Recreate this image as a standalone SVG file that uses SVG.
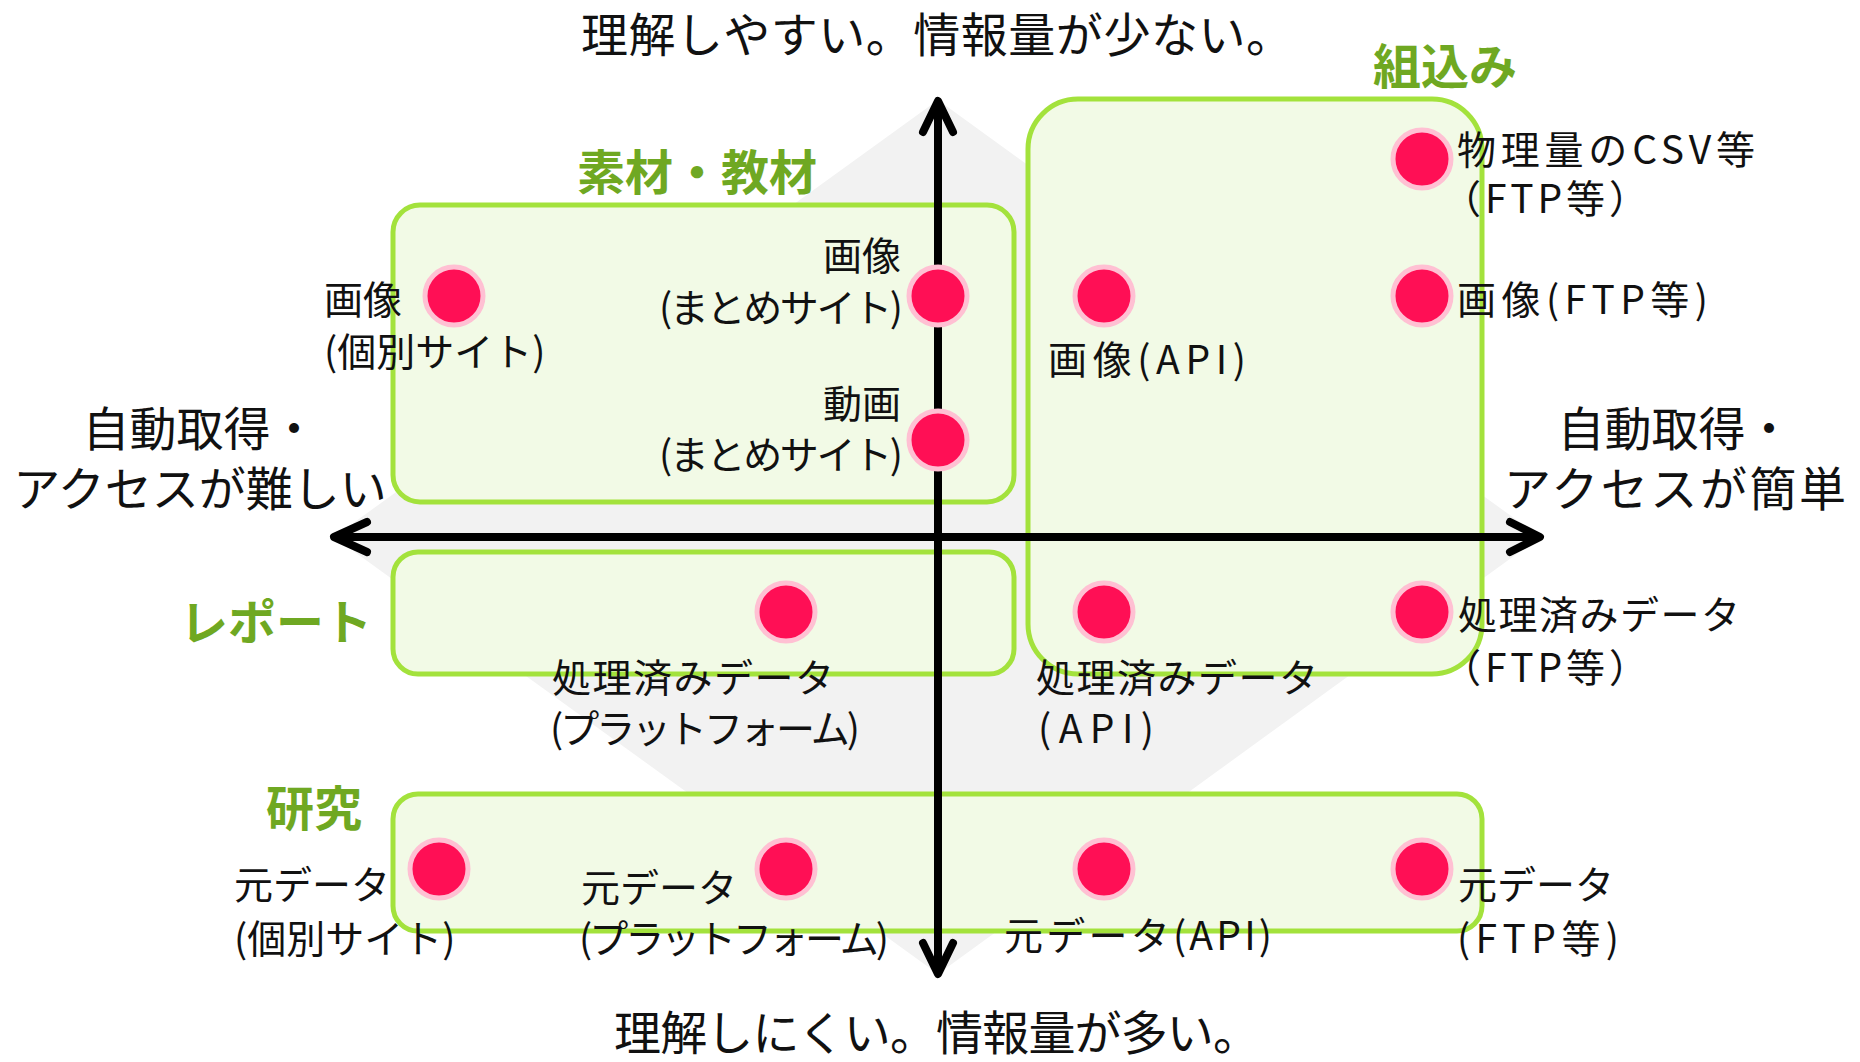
<svg xmlns="http://www.w3.org/2000/svg" width="1860" height="1062" viewBox="0 0 1860 1062">
<defs>
<style>
.box{fill:#f2fae6;stroke:#a3e23c;stroke-width:5}
.dot{fill:#ff0f55;stroke:#ffc0d3;stroke-width:5}
.lbl{font-family:"Noto Sans CJK JP","Noto Sans",sans-serif;font-size:39px;fill:#111}
.big{font-family:"Noto Sans CJK JP","Noto Sans",sans-serif;font-size:47px;fill:#111;text-anchor:middle}
.grp{font-family:"Noto Sans CJK JP","Noto Sans",sans-serif;font-size:48px;font-weight:bold;fill:#6fa822;text-anchor:middle}
.ax{stroke:#000;stroke-width:8;fill:none;stroke-linecap:round;stroke-linejoin:round}
.end{text-anchor:end}
</style>
</defs>
<rect width="1860" height="1062" fill="#fff"/>
<polygon points="938,100 1540,537 938,974 334,537" fill="#f2f2f2"/>

<g id="box-sozai"><rect class="box" x="393" y="205" width="621" height="297" rx="27"/><text class="grp" x="697" y="190">素材・教材</text></g>
<g id="box-kumikomi"><rect class="box" x="1028" y="99" width="454" height="575" rx="50"/><text class="grp" x="1445" y="84">組込み</text></g>
<g id="box-report"><rect class="box" x="393" y="552" width="621" height="122" rx="25"/><text class="grp" x="276" y="640">レポート</text></g>
<g id="box-kenkyu"><rect class="box" x="393" y="794" width="1089" height="137" rx="25"/><text class="grp" x="314" y="826">研究</text></g>

<g id="connectors">
<line class="ax" x1="938" y1="104" x2="938" y2="970"/>
<polyline class="ax" points="923,132 938,101 953,132"/>
<polyline class="ax" points="923,943 938,974 953,943"/>
<line class="ax" x1="338" y1="537" x2="1536" y2="537"/>
<polyline class="ax" points="367,522 334,537 367,552"/>
<polyline class="ax" points="1510,522 1540,537 1510,552"/>
</g>

<g id="axis-labels">
<text class="big" x="937" y="52" textLength="712">理解しやすい。情報量が少ない。</text>
<text class="big" x="937" y="1050" textLength="646">理解しにくい。情報量が多い。</text>
<text class="big" x="200" y="446">自動取得・</text>
<text class="big" x="200" y="506">アクセスが難しい</text>
<text class="big" x="1675" y="446">自動取得・</text>
<text class="big" x="1675" y="506" textLength="342">アクセスが簡単</text>
</g>

<g id="n1"><circle class="dot" cx="454" cy="296" r="29"/><text class="lbl" x="324" y="314">画像</text><text class="lbl" x="324" y="366">(個別サイト)</text></g>
<g id="n2"><circle class="dot" cx="938" cy="296" r="29"/><text class="lbl end" x="901" y="270">画像</text><text class="lbl end" x="903" y="322" textLength="244">(まとめサイト)</text></g>
<g id="n3"><circle class="dot" cx="938" cy="440" r="29"/><text class="lbl end" x="901" y="418">動画</text><text class="lbl end" x="903" y="469" textLength="244">(まとめサイト)</text></g>
<g id="n4"><circle class="dot" cx="1104" cy="296" r="29"/><text class="lbl" x="1048" y="374" textLength="198">画像(API)</text></g>
<g id="n5"><circle class="dot" cx="1422" cy="159" r="29"/><text class="lbl" x="1457" y="164" textLength="298">物理量のCSV等</text><text class="lbl" x="1442" y="213" textLength="206">（FTP等）</text></g>
<g id="n6"><circle class="dot" cx="1422" cy="296" r="29"/><text class="lbl" x="1457" y="314" textLength="251">画像(FTP等)</text></g>
<g id="n7"><circle class="dot" cx="786" cy="612" r="29"/><text class="lbl" x="552" y="692" textLength="282">処理済みデータ</text><text class="lbl" x="550" y="743" textLength="310">(プラットフォーム)</text></g>
<g id="n8"><circle class="dot" cx="1104" cy="612" r="29"/><text class="lbl" x="1036" y="692" textLength="282">処理済みデータ</text><text class="lbl" x="1038" y="743" textLength="116">(API)</text></g>
<g id="n9"><circle class="dot" cx="1422" cy="612" r="29"/><text class="lbl" x="1458" y="629" textLength="282">処理済みデータ</text><text class="lbl" x="1442" y="682" textLength="206">（FTP等）</text></g>
<g id="n10"><circle class="dot" cx="439" cy="869" r="29"/><text class="lbl" x="234" y="899">元データ</text><text class="lbl" x="234" y="953">(個別サイト)</text></g>
<g id="n11"><circle class="dot" cx="786" cy="869" r="29"/><text class="lbl" x="581" y="902">元データ</text><text class="lbl" x="579" y="953" textLength="310">(プラットフォーム)</text></g>
<g id="n12"><circle class="dot" cx="1104" cy="869" r="29"/><text class="lbl" x="1004" y="950" textLength="268">元データ(API)</text></g>
<g id="n13"><circle class="dot" cx="1422" cy="869" r="29"/><text class="lbl" x="1458" y="899">元データ</text><text class="lbl" x="1457" y="953" textLength="162">(FTP等)</text></g>
</svg>
